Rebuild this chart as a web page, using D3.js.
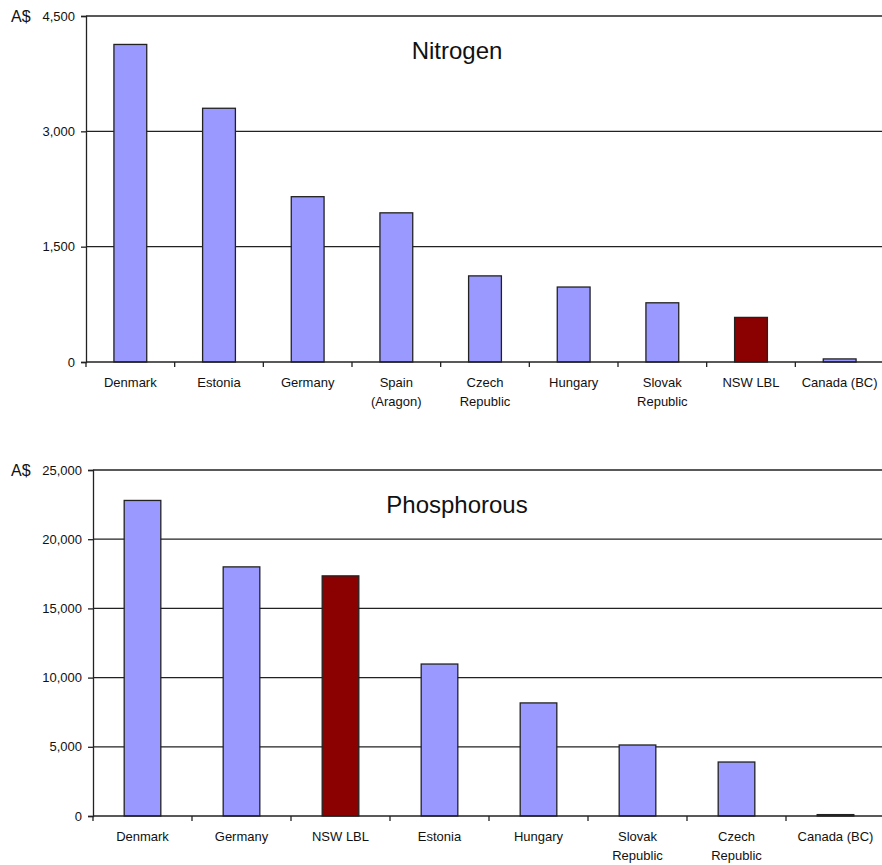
<!DOCTYPE html>
<html>
<head>
<meta charset="utf-8">
<script src="https://cdn.jsdelivr.net/npm/d3@7"></script>
<style>
  body { margin: 0; background: #fff; }
  svg { display: block; font-family: "Liberation Sans", Arial, sans-serif; }
</style>
</head>
<body>
<div id="chart"></div>
<script>
// Nitrogen chart data
var nCountries = ["Denmark", "Estonia", "Germany", "Spain\n(Aragon)", "Czech\nRepublic", "Hungary", "Slovak\nRepublic", "NSW LBL", "Canada (BC)"]
var nValues = [4130, 3300, 2150, 1940, 1120, 975, 770, 580, 40]
var nTicks = [0, 1500, 3000, 4500]

// Phosphorous chart data
var pCountries = ["Denmark", "Germany", "NSW LBL", "Estonia", "Hungary", "Slovak\nRepublic", "Czech\nRepublic", "Canada (BC)"]
var pValues = [22800, 18000, 17350, 10980, 8170, 5130, 3900, 100]
var pTicks = [0, 5000, 10000, 15000, 20000, 25000]

var highlight = "NSW LBL"

var svg = d3.select("#chart").append("svg")
  .attr("width", 882)
  .attr("height", 865)

var drawChart = function (opt) {
  var g = svg.append("g")

  var x = d3.scaleBand()
    .domain(opt.cats)
    .range([opt.left, opt.right])
    .paddingInner(0.63)
    .paddingOuter(0.315)

  var y = d3.scaleLinear()
    .domain([0, opt.max])
    .range([opt.bottom, opt.top])

  // gridlines
  g.append("g")
    .selectAll("line")
    .data(opt.ticks.filter(d => d > 0))
    .join("line")
    .attr("x1", opt.left)
    .attr("x2", 882)
    .attr("y1", d => y(d))
    .attr("y2", d => y(d))
    .attr("stroke", "#222")
    .attr("stroke-width", 1.3)

  // bars
  g.append("g")
    .selectAll("rect")
    .data(opt.cats.map((c, i) => ({ cat: c, value: opt.values[i] })))
    .join("rect")
    .attr("x", d => x(d.cat))
    .attr("y", d => y(d.value))
    .attr("width", x.bandwidth())
    .attr("height", d => y(0) - y(d.value))
    .attr("fill", d => d.cat == highlight ? "#8b0000" : "#9999ff")
    .attr("stroke", "#222")
    .attr("stroke-width", 1.3)

  // y axis
  var yAxis = g.append("g")
    .attr("transform", `translate(${opt.left},0)`)
    .call(d3.axisLeft(y).tickValues(opt.ticks).tickSize(5).tickPadding(6)
      .tickFormat(d3.format(",")))
  yAxis.select(".domain").attr("stroke", "#222").attr("stroke-width", 1.3)
  yAxis.selectAll(".tick line").attr("stroke", "#222").attr("stroke-width", 1.3)
  yAxis.selectAll("text").attr("font-size", 13).attr("fill", "#111")
    .attr("font-family", "'Liberation Sans', Arial, sans-serif")

  // x axis: ticks at band boundaries
  var bounds = opt.cats.map(c => x(c) - x.step() * x.paddingInner() / 2)
  bounds.push(opt.right)
  g.append("line")
    .attr("x1", opt.left).attr("x2", 882)
    .attr("y1", y(0)).attr("y2", y(0))
    .attr("stroke", "#222").attr("stroke-width", 1.3)
  g.append("g")
    .selectAll("line")
    .data(bounds)
    .join("line")
    .attr("x1", d => d).attr("x2", d => d)
    .attr("y1", y(0)).attr("y2", y(0) + 5)
    .attr("stroke", "#222").attr("stroke-width", 1.3)

  // category labels
  g.append("g")
    .selectAll("text")
    .data(opt.cats)
    .join("text")
    .attr("x", d => x(d) + x.bandwidth() / 2)
    .attr("y", y(0) + 25)
    .attr("text-anchor", "middle")
    .attr("font-size", 13)
    .attr("fill", "#111")
    .selectAll("tspan")
    .data(d => d.split("\n").map(t => ({ t: t, cx: x(d) + x.bandwidth() / 2 })))
    .join("tspan")
    .attr("x", d => d.cx)
    .attr("dy", (d, i) => i == 0 ? 0 : 19)
    .text(d => d.t)

  // unit label
  g.append("text")
    .attr("x", 11)
    .attr("y", opt.top + 6)
    .attr("font-size", 16)
    .attr("fill", "#111")
    .text("A$")

  // title
  g.append("text")
    .attr("x", 457)
    .attr("y", opt.titleY)
    .attr("text-anchor", "middle")
    .attr("font-size", 24)
    .attr("fill", "#111")
    .text(opt.title)
}

drawChart({
  cats: nCountries, values: nValues, ticks: nTicks, max: 4500,
  left: 86, right: 884, top: 16, bottom: 362,
  title: "Nitrogen", titleY: 59
})

drawChart({
  cats: pCountries, values: pValues, ticks: pTicks, max: 25000,
  left: 93, right: 885, top: 470, bottom: 816,
  title: "Phosphorous", titleY: 513
})
</script>
</body>
</html>
